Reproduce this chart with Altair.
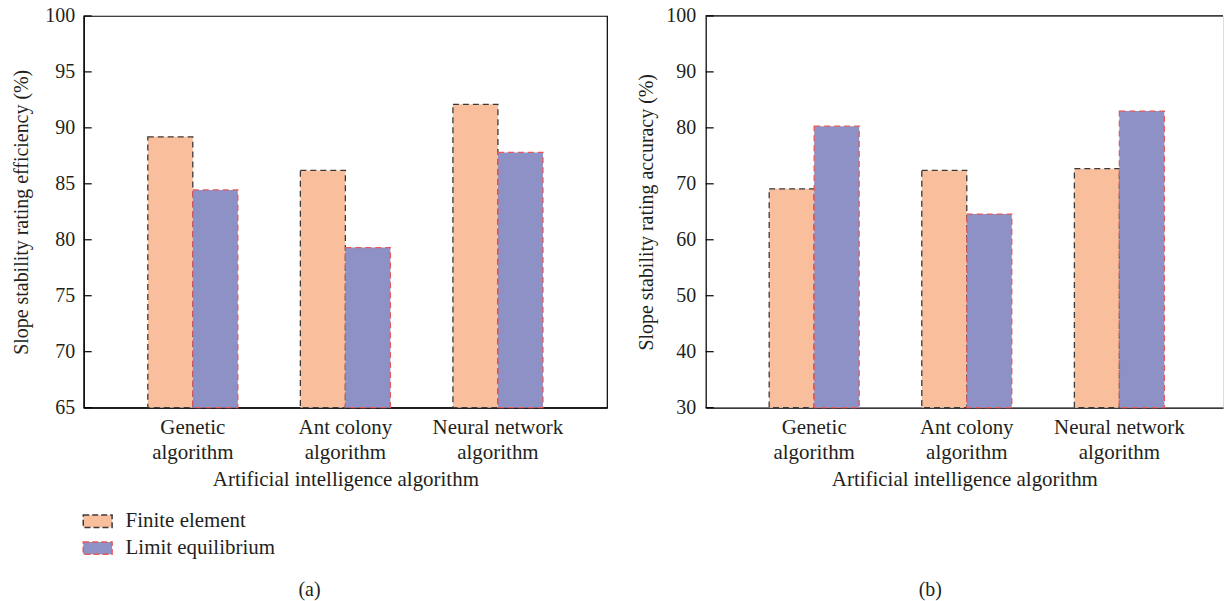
import altair as alt
import pandas as pd

# ---- data ----
algorithms = ["Genetic algorithm", "Ant colony algorithm", "Neural network algorithm"]
methods = ["Finite element", "Limit equilibrium"]

efficiency_finite = [89.2, 86.2, 92.1]
efficiency_limit = [84.45, 79.3, 87.8]
efficiency_ticks = [65, 70, 75, 80, 85, 90, 95, 100]

accuracy_finite = [69.1, 72.4, 72.7]
accuracy_limit = [80.3, 64.6, 83.0]
accuracy_ticks = [30, 40, 50, 60, 70, 80, 90, 100]

FONT = "Liberation Serif, DejaVu Serif, serif"
TXT = "#231f20"
FILL = ["#f9bf9c", "#8e91c6"]
STROKE = ["#3a3a3a", "#e5585b"]
FS = 20
FSX = 21


def panel(finite, limit, ticks, ytitle, caption, width, pad_outer, align,
          title_pad, label_pad, boxed):
    rows = []
    for a, f, l in zip(algorithms, finite, limit):
        rows.append({"algorithm": a, "method": methods[0], "value": f})
        rows.append({"algorithm": a, "method": methods[1], "value": l})
    df = pd.DataFrame(rows)
    tdf = pd.DataFrame({"value": ticks})

    yscale = alt.Scale(domain=[ticks[0], ticks[-1]], nice=False, zero=False)
    yaxis = alt.Axis(values=ticks, tickSize=0, labelPadding=label_pad,
                     titlePadding=title_pad, grid=False, domainColor="black",
                     domainWidth=1.2, labelFont=FONT, labelFontSize=FS,
                     labelColor=TXT, titleFont=FONT, titleFontSize=FS,
                     titleColor=TXT, titleFontWeight="normal")
    y = alt.Y("value:Q", scale=yscale, axis=yaxis, title=ytitle)

    xaxis = alt.Axis(
        labelExpr="[slice(datum.value, 0, lastindexof(datum.value, ' ')), "
                  "slice(datum.value, lastindexof(datum.value, ' ') + 1)]",
        labelAngle=0, ticks=False, labelPadding=9, labelLineHeight=25,
        titlePadding=6, domainColor="black", domainWidth=1.2,
        labelFont=FONT, labelFontSize=FSX, labelColor=TXT,
        titleFont=FONT, titleFontSize=FSX, titleColor=TXT,
        titleFontWeight="normal")

    leg = alt.Legend(title=None, orient="none", legendX=0, legendY=493,
                     symbolType="M-1.12,-0.48H1.12V0.48H-1.12Z", symbolSize=667,
                     symbolStrokeWidth=1.5, symbolDash=[6, 3], symbolOpacity=1,
                     labelFont=FONT, labelFontSize=FSX, labelColor=TXT,
                     labelOffset=14, rowPadding=3)

    bars = alt.Chart(df).mark_bar(strokeDash=[6, 4], strokeWidth=1.3, opacity=1).encode(
        x=alt.X("algorithm:N", sort=algorithms,
                scale=alt.Scale(paddingInner=0.41, paddingOuter=pad_outer, align=align),
                axis=xaxis, title="Artificial intelligence algorithm"),
        xOffset=alt.XOffset("method:N", sort=methods),
        y=y,
        y2=alt.Y2(datum=ticks[0]),
        color=alt.Color("method:N", scale=alt.Scale(domain=methods, range=FILL), legend=leg),
        stroke=alt.Stroke("method:N", scale=alt.Scale(domain=methods, range=STROKE), legend=leg),
    )

    tick_marks = alt.Chart(tdf).mark_rule(color="black", strokeWidth=1.2).encode(
        y=y, x=alt.value(0), x2=alt.value(8)
    )

    layers = [bars, tick_marks]
    if not boxed:
        top = alt.Chart(tdf).mark_rule(color="black", strokeWidth=1.2).encode(
            y=alt.Y("value:Q", aggregate="max", scale=yscale, axis=yaxis, title=ytitle),
            x=alt.value(0), x2=alt.value(width))
        layers.append(top)

    ch = alt.layer(*layers).properties(
        width=width, height=393,
        title=alt.TitleParams(caption, orient="bottom", anchor="middle",
                              frame="bounds",
                              font=FONT, fontSize=FS, color=TXT,
                              fontWeight="normal", offset=91),
    )
    if boxed:
        ch = ch.properties(view=alt.ViewBackground(stroke="black", strokeWidth=1.2))
    return ch


left = panel(efficiency_finite, efficiency_limit, efficiency_ticks,
             "Slope stability rating efficiency (%)", "(a)", 525, 0.42, 0.5,
             13, 9, True)
right = panel(accuracy_finite, accuracy_limit, accuracy_ticks,
              "Slope stability rating accuracy (%)", "(b)", 519, 0.40, 0.52,
              9, 10, False)

chart = alt.hconcat(left, right, spacing=28).properties(
    padding={"left": 11, "top": 4, "right": 0, "bottom": 0},
    background="white",
).configure_view(strokeWidth=0).configure(font=FONT)

chart.save("out.html", embed_options={"renderer": "svg", "actions": False})
